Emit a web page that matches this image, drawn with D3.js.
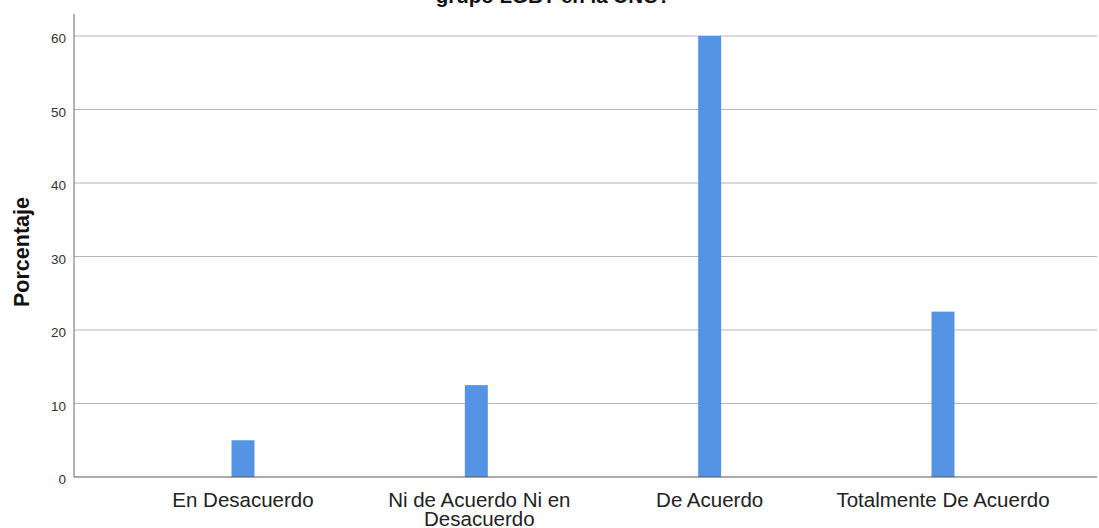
<!DOCTYPE html>
<html><head><meta charset="utf-8">
<script src="https://cdn.jsdelivr.net/npm/d3@7"></script>
<style>body{margin:0;background:#fff}svg{display:block}</style>
</head><body>
<script>
const categories = ["En Desacuerdo", "Ni de Acuerdo Ni en Desacuerdo", "De Acuerdo", "Totalmente De Acuerdo"];
const categoryLines = [["En Desacuerdo"], ["Ni de Acuerdo Ni en", "Desacuerdo"], ["De Acuerdo"], ["Totalmente De Acuerdo"]];
const values = [5, 12.5, 60, 22.5];
const yTicks = [0, 10, 20, 30, 40, 50, 60];
const titleText = "grupo LGBT en la UNC?";
const yLabel = "Porcentaje";

(function () {
const W = 1099, H = 528;
const mLeft = 74, mRight = 1097, mTop = 14, mBottom = 477;
const FONT = "Arial, 'Liberation Sans', sans-serif";
const svg = d3.select("body").append("svg").attr("width", W).attr("height", H);

const y = d3.scaleLinear().domain([0, 60]).range([mBottom, 36]);
const x = d3.scalePoint().domain(categories).range([243, 943]);

// gridlines
svg.append("g").selectAll("line").data(yTicks.filter(d => d > 0)).join("line")
  .attr("x1", mLeft).attr("x2", mRight)
  .attr("y1", d => y(d)).attr("y2", d => y(d))
  .attr("stroke", "#b4b4b4").attr("stroke-width", 1);

// bars
const bw = 23;
svg.append("g").selectAll("rect").data(values).join("rect")
  .attr("x", (d, i) => x(categories[i]) - bw / 2)
  .attr("width", bw)
  .attr("y", d => y(d))
  .attr("height", d => mBottom - y(d))
  .attr("fill", "#5594e4");

// y axis
const yAxis = svg.append("g").attr("transform", `translate(${mLeft},2.5)`)
  .call(d3.axisLeft(y).tickValues(yTicks).tickSize(0).tickPadding(8));
yAxis.select(".domain").remove();
yAxis.selectAll("text").attr("font-family", FONT)
  .attr("font-size", 13.5).attr("fill", "#333");
svg.append("line").attr("x1", mLeft).attr("x2", mLeft).attr("y1", mTop).attr("y2", mBottom)
  .attr("stroke", "#8a8a8a").attr("stroke-width", 1.3);

// x axis
svg.append("line").attr("x1", mLeft).attr("x2", mRight).attr("y1", mBottom).attr("y2", mBottom)
  .attr("stroke", "#555").attr("stroke-width", 1.2);

const xl = svg.append("g").selectAll("text").data(categories).join("text")
  .attr("x", d => x(d)).attr("y", 506.5)
  .attr("text-anchor", "middle")
  .attr("font-family", FONT)
  .attr("font-size", 20.5).attr("fill", "#222");
xl.each(function(d, i) {
  const t = d3.select(this);
  categoryLines[i].forEach((ln, j) => {
    t.append("tspan").attr("x", x(d) + (categoryLines[i].length > 1 ? 3 : 0)).attr("dy", j === 0 ? 0 : 19.5).text(ln);
  });
});

// y label
svg.append("text").attr("transform", `translate(28.5,252) rotate(-90)`)
  .attr("text-anchor", "middle")
  .attr("font-family", FONT)
  .attr("font-size", 21.5).attr("font-weight", "bold").attr("fill", "#111")
  .text(yLabel);

// title (partially cut)
svg.append("text").attr("x", 553).attr("y", 3).attr("text-anchor", "middle")
  .attr("font-family", FONT)
  .attr("font-size", 20.5).attr("font-weight", "bold").attr("fill", "#111")
  .text(titleText);
})();
</script>
</body></html>
